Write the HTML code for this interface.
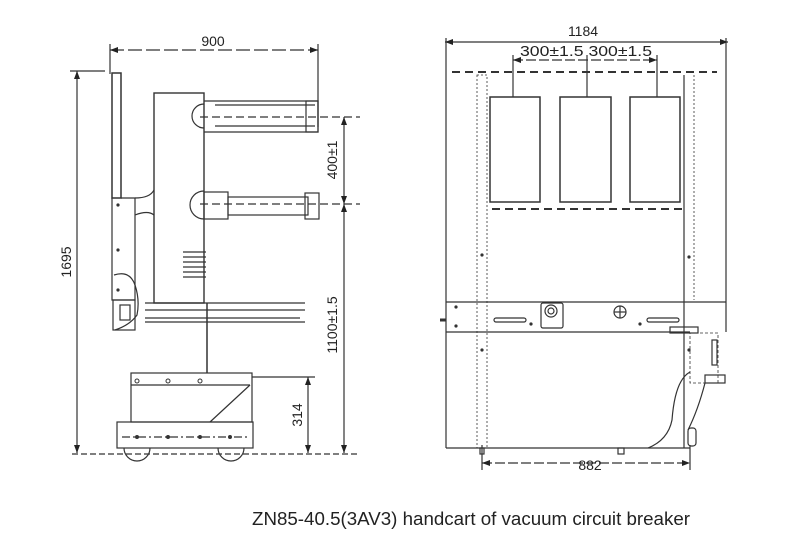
<!DOCTYPE html>
<html><head><meta charset="utf-8"><style>
html,body{margin:0;padding:0;background:#fff;}
svg{display:block;}
text{font-family:"Liberation Sans",sans-serif;fill:#222;}
</style></head><body>
<svg width="800" height="540" viewBox="0 0 800 540" xmlns="http://www.w3.org/2000/svg">
<defs>
<marker id="a" markerWidth="8" markerHeight="6" refX="8" refY="3" orient="auto-start-reverse" markerUnits="userSpaceOnUse"><path d="M0,0 L8,3 L0,6 z" fill="#222"/></marker>
</defs>
<g stroke="#333" stroke-width="1.2" fill="none">
<!-- LEFT VIEW -->
<line x1="110" y1="50" x2="318" y2="50" stroke-dasharray="14 4" marker-start="url(#a)" marker-end="url(#a)"/>
<line x1="110" y1="44" x2="110" y2="74"/>
<line x1="318" y1="44" x2="318" y2="127"/>
<line x1="77" y1="71" x2="77" y2="453" marker-start="url(#a)" marker-end="url(#a)"/>
<line x1="70" y1="71" x2="105" y2="71"/>
<line x1="72" y1="454" x2="360" y2="454" stroke-dasharray="6 3"/>
<rect x="112" y="73" width="9" height="125" stroke-width="1.5"/>
<rect x="154" y="93" width="50" height="210" stroke-width="1.4"/>
<path d="M204,104 A12,12 0 0 0 204,128"/>
<path d="M204,101 H318 V132 H204"/>
<line x1="215" y1="105" x2="315" y2="105"/>
<line x1="215" y1="126" x2="315" y2="126"/>
<rect x="306" y="101" width="12" height="31"/>
<line x1="200" y1="117" x2="360" y2="117" stroke-dasharray="8 4"/>
<path d="M204,191 A13,13 0 0 0 204,219"/>
<rect x="204" y="192" width="24" height="27"/>
<rect x="228" y="197" width="80" height="18"/>
<rect x="305" y="193" width="14" height="26"/>
<line x1="200" y1="204" x2="360" y2="204" stroke-dasharray="8 4"/>
<line x1="344" y1="117" x2="344" y2="204" marker-start="url(#a)" marker-end="url(#a)"/>
<line x1="344" y1="204" x2="344" y2="453" marker-start="url(#a)" marker-end="url(#a)"/>
<line x1="308" y1="377" x2="308" y2="453" marker-start="url(#a)" marker-end="url(#a)"/>
<line x1="252" y1="377" x2="315" y2="377"/>
<path d="M121,198 H135 V300 H112 V198"/>
<path d="M135,198 Q150,198 154,190"/>
<path d="M135,215 Q148,210 154,215"/>
<path d="M114,275 Q130,270 135,285 Q140,300 137,315 Q130,325 115,330"/>
<line x1="183" y1="252" x2="206" y2="252"/><line x1="183" y1="257" x2="206" y2="257"/><line x1="183" y1="262" x2="206" y2="262"/><line x1="183" y1="267" x2="206" y2="267"/><line x1="183" y1="272" x2="206" y2="272"/><line x1="183" y1="277" x2="206" y2="277"/>
<line x1="145" y1="303" x2="305" y2="303"/>
<line x1="145" y1="310" x2="305" y2="310"/>
<line x1="145" y1="322" x2="305" y2="322"/>
<line x1="145" y1="318" x2="300" y2="318"/>
<rect x="113" y="300" width="22" height="30"/>
<rect x="120" y="305" width="10" height="15"/>
<line x1="207" y1="303" x2="207" y2="373" stroke-width="1.5"/>
<rect x="131" y="373" width="121" height="49"/>
<line x1="131" y1="385" x2="250" y2="385"/>
<line x1="250" y1="385" x2="210" y2="422"/>
<rect x="117" y="422" width="136" height="26"/>
<path d="M124,448 A12,12 0 0 0 150,448"/><path d="M218,448 A12,12 0 0 0 244,448"/>
<line x1="122" y1="437" x2="250" y2="437" stroke-dasharray="8 3 2 3"/>
<!-- RIGHT VIEW -->
<line x1="445" y1="42" x2="728" y2="42" marker-start="url(#a)" marker-end="url(#a)"/>
<line x1="446" y1="38" x2="446" y2="448"/>
<line x1="726" y1="38" x2="726" y2="332"/>
<line x1="446" y1="448" x2="690" y2="448"/>
<line x1="513" y1="60" x2="657" y2="60" stroke-dasharray="10 3" marker-start="url(#a)" marker-end="url(#a)"/>
<line x1="513" y1="55" x2="513" y2="97"/><line x1="587" y1="55" x2="587" y2="97"/><line x1="657" y1="55" x2="657" y2="97"/>
<line x1="452" y1="72" x2="717" y2="72" stroke-width="2" stroke-dasharray="8 5"/>
<rect x="490" y="97" width="50" height="105" stroke-width="1.5"/>
<rect x="560" y="97" width="51" height="105" stroke-width="1.5"/>
<rect x="630" y="97" width="50" height="105" stroke-width="1.5"/>
<line x1="492" y1="209" x2="686" y2="209" stroke-width="2" stroke-dasharray="8 5"/>
<rect x="477" y="75" width="10" height="373" stroke-dasharray="2 2" stroke-width="0.8"/>
<line x1="684" y1="75" x2="684" y2="448"/>
<line x1="694" y1="75" x2="694" y2="300" stroke-dasharray="2 2" stroke-width="0.8"/>
<line x1="446" y1="302" x2="726" y2="302"/>
<line x1="446" y1="332" x2="690" y2="332"/>
<line x1="440" y1="320" x2="446" y2="320" stroke-width="3"/>
<rect x="541" y="303" width="22" height="25" rx="2"/>
<circle cx="551" cy="311" r="6"/><circle cx="551" cy="311" r="3"/>
<circle cx="620" cy="312" r="6"/><line x1="614" y1="312" x2="626" y2="312"/><line x1="620" y1="306" x2="620" y2="318"/>
<rect x="494" y="318" width="32" height="4" rx="2"/>
<rect x="647" y="318" width="32" height="4" rx="2"/>
<rect x="670" y="327" width="28" height="6"/>
<rect x="690" y="333" width="28" height="50" stroke-dasharray="3 2" stroke-width="0.8"/>
<rect x="712" y="340" width="5" height="25"/>
<rect x="705" y="375" width="20" height="8"/>
<path d="M690,372 Q675,380 672,420 Q668,440 648,448"/>
<path d="M705,383 Q698,410 688,430"/>
<rect x="688" y="428" width="8" height="18" rx="3"/>
<line x1="482" y1="445" x2="482" y2="470"/><line x1="690" y1="445" x2="690" y2="470"/>
<rect x="480" y="448" width="4" height="6"/><rect x="618" y="448" width="6" height="6"/>
<line x1="482" y1="463" x2="690" y2="463" stroke-dasharray="10 3" marker-start="url(#a)" marker-end="url(#a)"/>
</g>
<g fill="#333">
<circle cx="118" cy="205" r="1.6"/><circle cx="118" cy="250" r="1.6"/><circle cx="118" cy="290" r="1.6"/>
<circle cx="137" cy="381" r="2" fill="none" stroke="#333"/><circle cx="168" cy="381" r="2" fill="none" stroke="#333"/><circle cx="200" cy="381" r="2" fill="none" stroke="#333"/>
<circle cx="137" cy="437" r="2"/><circle cx="168" cy="437" r="2"/><circle cx="200" cy="437" r="2"/><circle cx="230" cy="437" r="2"/>
<circle cx="482" cy="255" r="1.6"/><circle cx="482" cy="350" r="1.6"/><circle cx="689" cy="257" r="1.6"/><circle cx="689" cy="350" r="1.6"/>
<circle cx="456" cy="307" r="1.6"/><circle cx="456" cy="326" r="1.6"/><circle cx="531" cy="324" r="1.6"/><circle cx="640" cy="324" r="1.6"/>
</g>
<text x="213" y="46" font-size="14" text-anchor="middle">900</text>
<text x="583" y="36" font-size="14" text-anchor="middle">1184</text>
<text x="520" y="56" font-size="14.5" textLength="132" lengthAdjust="spacingAndGlyphs">300±1.5 300±1.5</text>
<text x="590" y="470" font-size="14" text-anchor="middle">882</text>
<text transform="translate(71,262) rotate(-90)" font-size="14" text-anchor="middle">1695</text>
<text transform="translate(337,160) rotate(-90)" font-size="14" text-anchor="middle">400±1</text>
<text transform="translate(337,325) rotate(-90)" font-size="14" text-anchor="middle">1100±1.5</text>
<text transform="translate(302,415) rotate(-90)" font-size="14" text-anchor="middle">314</text>
<text x="252" y="525" font-size="18" textLength="438" lengthAdjust="spacingAndGlyphs">ZN85-40.5(3AV3) handcart of vacuum circuit breaker</text>
</svg>
</body></html>
